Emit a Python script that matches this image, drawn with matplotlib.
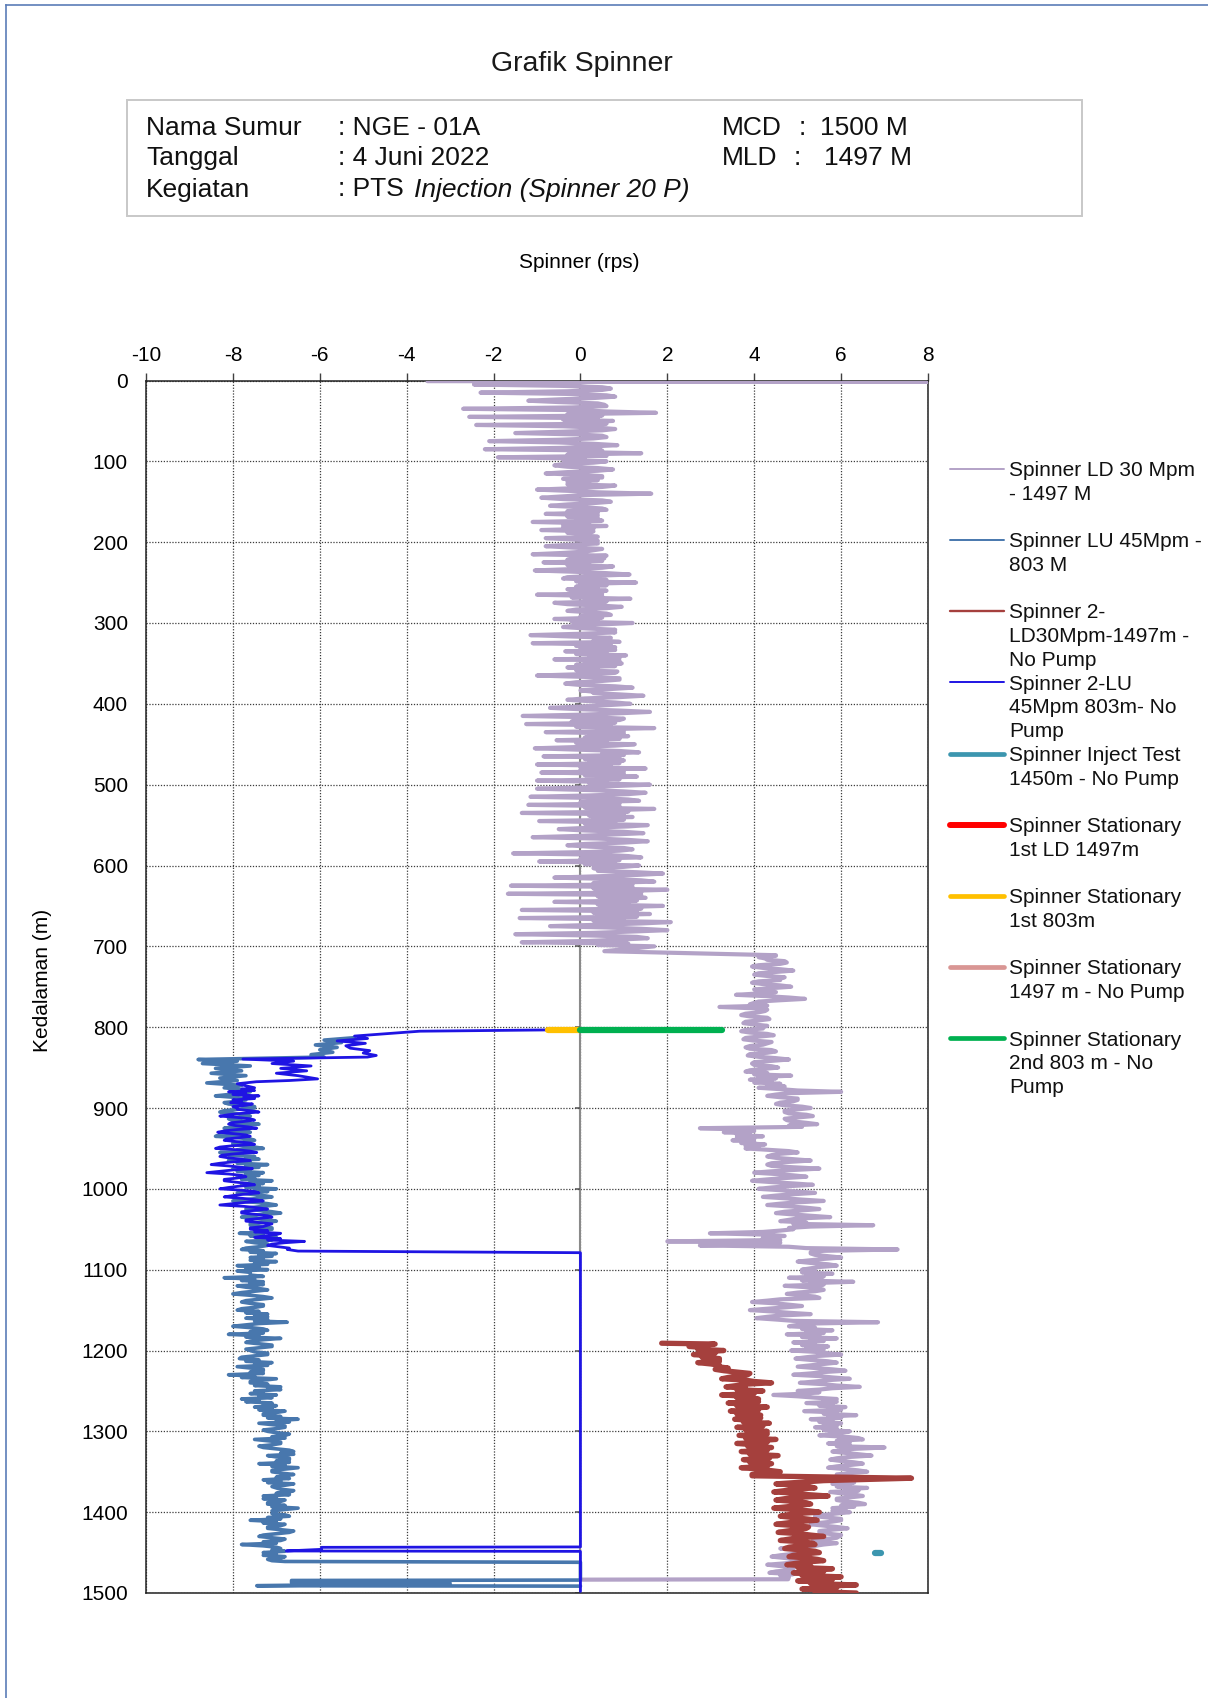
import numpy as np
import matplotlib.pyplot as plt
from matplotlib.lines import Line2D
from matplotlib.patches import Rectangle

plt.rcParams['font.family'] = ['Liberation Sans', 'DejaVu Sans']
plt.rcParams['axes.unicode_minus'] = False

W, H = 1208, 1698

# ---------------- data (kedalaman m, spinner rps) ----------------
# each logged run: "peak" readings every 5 m, plus two "core" readings
# between consecutive peaks (core / core2)

# Spinner LD 30 Mpm - 1497 M
ld30_head_depth = [0.8, 1.2]
ld30_head_rps = [-3.52, 8.0]
ld30_upper_peak = [
    -2.45, 0.7, -2.3, 0.8, -1.2, 0.55, -2.7, 1.74, -2.56, 0.75,
    -2.4, 0.8, -1.5, 0.6, -2.1, 0.85, -2.2, 1.4, -1.9, 0.6,
    -0.6, 0.75, -0.8, 0.5, -0.3, 0.8, -1.0, 1.63, -0.9, 0.7,
    -0.7, 0.6, -0.8, 0.4, -1.1, 0.6, -0.9, 0.2, -0.8, 0.35,
    -0.8, 0.3, -1.1, 0.55, -0.85, 0.75, -1.05, 1.13, -0.4, 1.28,
    -0.1, 0.6, -1.0, 1.15, -0.6, 0.95, -0.3, 0.7, -0.6, 1.2,
    -0.4, 0.65, -1.15, 0.35, -1.1, 0.8, -0.35, 1.05, -0.6, 0.95,
    -0.3, 0.85, -1.0, 0.9, -0.35, 1.2, 0.3, 1.45, -0.3, 1.15,
    -0.7, 1.6, -1.33, 0.9, -1.25, 1.7, -0.8, 1.1, -0.55, 1.25,
    -1.05, 1.35, -0.85, 1.0, -1.0, 1.5, -0.9, 1.3, -1.0, 1.6,
    -1.0, 1.5, -1.15, 1.35, -1.2, 1.7, -1.35, 1.2, -0.95, 1.55,
    -0.5, 1.45, -1.1, 1.55, -0.3, 1.2, -1.55, 1.4, -0.95, 1.35,
    0.6, 1.9, -0.6, 1.7, -1.6, 2.0, -1.67, 1.5, -0.6, 1.9,
    -1.35, 1.6, -1.4, 2.08, -0.7, 2.0, -1.5, 1.55, -1.35, 1.7,
]
ld30_upper_core = [
    0.2, -0.4, 0.5, -0.2, 0.3, -0.5, 0.6, 0.0, -0.3, 0.4,
    0.1, -0.4, 0.5, -0.1, 0.3, -0.5, 0.2, 0.5, -0.3, 0.1,
    0.3, -0.3, 0.4, 0.0, -0.4, 0.2, 0.5, -0.2, 0.1, -0.4,
    0.3, 0.0, -0.3, 0.4, -0.1, 0.2, -0.4, 0.3, 0.0, -0.2,
    0.4, -0.2, 0.1, 0.6, -0.3, 0.2, 0.5, -0.1, 0.3, 0.6,
    0.0, 0.4, -0.2, 0.5, 0.1, -0.3, 0.6, 0.2, 0.0, 0.4,
    0.5, 0.1, 0.8, -0.2, 0.3, 0.7, 0.0, 0.6, 0.2, 0.9,
    -0.1, 0.4, 0.8, 0.1, 0.5, 0.0, 0.7, 0.3, 0.9, 0.2,
    0.6, 0.0, 0.9, 0.3, -0.2, 0.7, 0.4, 1.0, 0.1, 0.6,
    0.8, -0.1, 0.5, 0.9, 0.2, 0.7, 0.0, 1.0, 0.4, 0.6,
    0.8, 0.2, 1.1, 0.5, 0.0, 0.9, 0.6, 1.0, 0.3, 0.8,
    1.1, 0.1, 0.7, 0.4, 1.0, 0.2, 0.9, 0.5, 0.0, 0.8,
    1.0, 0.4, 1.3, 0.7, 0.3, 1.2, 0.9, 1.4, 0.5, 1.1,
    0.8, 1.3, 0.4, 1.0, 1.4, 0.6, 1.2, 0.3, 0.9, 1.1,
]
ld30_upper_core2 = [
    -0.4, 0.5, -0.3, 0.6, -0.5, 0.4, -0.2, 0.6, 0.5, -0.4,
    0.6, 0.4, -0.4, 0.5, -0.5, 0.3, -0.4, -0.2, 0.6, -0.4,
    -0.4, 0.4, -0.3, 0.5, 0.4, -0.3, -0.2, 0.4, -0.4, 0.5,
    -0.3, 0.5, 0.4, -0.3, 0.5, -0.4, 0.3, -0.3, 0.4, 0.4,
    -0.3, 0.5, -0.4, -0.2, 0.5, -0.3, -0.2, 0.6, -0.3, -0.1,
    0.6, -0.3, 0.5, -0.2, 0.6, 0.4, -0.1, 0.6, 0.5, -0.2,
    -0.1, 0.8, 0.0, 0.7, 0.9, -0.1, 0.8, -0.1, 0.9, 0.1,
    0.8, -0.1, 0.0, 0.9, -0.1, 0.8, 0.0, 0.9, 0.1, 0.8,
    0.0, 0.9, 0.1, 1.0, 0.8, -0.1, 1.0, 0.2, 0.9, -0.1,
    0.0, 0.9, 1.0, 0.1, 0.9, 0.0, 1.0, 0.1, 0.9, 0.2,
    0.1, 1.0, 0.2, 1.1, 0.9, 0.1, 1.1, 0.2, 1.0, 0.1,
    0.2, 1.0, 0.0, 1.1, 0.1, 1.0, 0.2, 1.1, 0.9, 0.1,
    0.3, 1.3, 0.4, 1.4, 1.2, 0.3, 1.4, 0.4, 1.3, 0.4,
    1.4, 0.3, 1.3, 0.3, 0.4, 1.4, 0.3, 1.3, 0.2, 0.4,
]
ld30_jump_depth = [706, 711]
ld30_jump_rps = [0.55, 4.5]
ld30_mid_peak = [
    4.25, 4.75, 3.95, 4.9, 4.0, 4.5, 3.95, 4.85, 4.1, 3.58,
    5.17, 4.0, 3.2, 4.25, 3.7, 4.35, 3.75, 4.2, 3.7, 4.45,
    3.75, 4.3, 3.8, 4.5, 3.85, 4.8, 3.95, 4.55, 3.8, 4.85,
    3.9, 4.6, 4.1, 6.0, 4.3, 5.0, 4.5, 5.3, 4.7, 5.35,
    4.75, 5.45, 2.75, 3.3, 4.2, 3.5, 4.25, 3.8, 5.0, 4.3,
    5.3, 4.3, 5.5, 4.0, 5.2, 3.95, 5.35, 4.1, 5.4, 4.2,
    5.6, 4.3, 5.5, 4.5, 5.75, 4.6, 6.74, 4.9, 2.98, 4.2,
    2.0, 2.75, 7.3, 5.3, 6.0, 5.0, 5.9, 5.1,
]
ld30_mid_core = [
    4.5, 4.3, 4.6, 4.2, 4.5, 4.3, 4.6, 4.2, 4.4, 4.5,
    4.3, 4.6, 3.9, 4.0, 4.1, 3.9, 4.1, 4.0, 4.2, 3.9,
    4.1, 4.0, 4.2, 3.9, 4.3, 4.1, 4.4, 4.0, 4.2, 4.3,
    4.1, 4.4, 4.3, 4.6, 4.8, 4.6, 4.9, 4.7, 5.0, 4.8,
    5.0, 4.9, 4.8, 3.7, 3.9, 3.6, 4.0, 3.8, 4.3, 4.6,
    4.5, 4.8, 4.4, 4.9, 4.5, 4.7, 4.4, 4.8, 4.6, 4.9,
    4.7, 5.0, 4.8, 5.1, 4.9, 5.0, 5.2, 5.3, 4.6, 4.3,
    4.2, 4.6, 4.8, 5.6, 5.4, 5.6, 5.3, 5.5,
]
ld30_mid_core2 = [
    4.1, 4.7, 4.1, 4.6, 4.1, 4.7, 4.1, 4.6, 4.0, 4.1,
    4.8, 4.1, 4.3, 4.3, 3.8, 4.3, 3.8, 4.3, 3.8, 4.3,
    3.8, 4.4, 3.9, 4.4, 3.9, 4.5, 4.0, 4.4, 3.9, 4.0,
    4.5, 4.0, 4.7, 5.0, 4.5, 5.0, 4.6, 5.1, 4.7, 5.2,
    4.7, 5.2, 5.1, 4.0, 3.6, 4.0, 3.7, 4.1, 4.8, 4.4,
    4.9, 4.4, 4.9, 4.4, 4.9, 4.3, 4.9, 4.4, 5.0, 4.5,
    5.1, 4.6, 5.2, 4.7, 5.3, 4.8, 4.9, 4.8, 4.2, 4.7,
    4.6, 4.2, 5.2, 5.3, 5.7, 5.3, 5.7, 5.3,
]
ld30_low_peak = [
    5.8, 4.8, 6.28, 4.7, 5.6, 4.75, 5.5, 3.95, 5.1, 3.9,
    5.3, 4.05, 6.85, 4.8, 5.8, 4.75, 5.9, 4.9, 5.7, 4.85,
    6.0, 4.95, 5.9, 5.0, 6.1, 4.9, 6.2, 5.05, 6.43, 5.0,
    4.44, 5.9, 5.2, 6.1, 5.15, 6.35, 5.3, 6.0, 5.4, 6.2,
    5.5, 6.5, 5.7, 7.0, 5.8, 6.7, 5.75, 6.5, 5.7, 6.6,
    5.9, 6.4, 5.8, 6.6, 5.75, 6.5, 5.9, 6.55, 5.8, 6.2,
    5.4, 6.0, 5.3, 6.15, 5.5, 5.95, 5.35, 5.6, 4.6, 5.2,
    4.4, 5.0, 4.3, 4.9, 4.35, 4.8,
]
ld30_low_core = [
    5.4, 5.2, 5.5, 5.3, 5.2, 5.4, 5.1, 4.6, 4.5, 4.7,
    4.4, 4.6, 4.5, 5.3, 5.4, 5.2, 5.5, 5.3, 5.4, 5.2,
    5.4, 5.5, 5.3, 5.6, 5.4, 5.6, 5.5, 5.7, 5.6, 5.8,
    5.5, 5.0, 5.6, 5.8, 5.7, 5.9, 5.7, 5.8, 5.6, 5.9,
    6.0, 6.1, 5.9, 6.2, 6.3, 6.1, 6.2, 6.0, 6.2, 6.1,
    6.2, 6.1, 6.0, 6.2, 6.1, 6.0, 6.2, 6.1, 6.0, 6.1,
    5.9, 5.7, 5.8, 5.6, 5.8, 5.7, 5.9, 5.6, 5.4, 5.0,
    4.9, 4.7, 5.0, 4.6, 4.8, 4.9,
]
ld30_low_core2 = [
    5.1, 5.6, 5.1, 5.6, 5.5, 5.0, 5.4, 4.3, 4.8, 4.3,
    4.8, 4.3, 4.9, 5.0, 5.1, 5.6, 5.1, 5.6, 5.1, 5.6,
    5.7, 5.2, 5.7, 5.3, 5.8, 5.3, 5.8, 5.4, 5.9, 5.5,
    5.2, 5.4, 5.9, 5.5, 6.0, 5.6, 6.0, 5.5, 5.9, 5.6,
    5.8, 6.4, 6.2, 5.9, 6.0, 6.4, 5.9, 6.3, 5.9, 6.4,
    5.9, 6.4, 6.3, 5.9, 6.4, 6.3, 5.9, 6.4, 6.3, 5.8,
    5.6, 6.0, 5.5, 5.9, 5.5, 6.0, 5.6, 5.9, 5.1, 5.3,
    4.6, 5.0, 4.7, 4.9, 4.5, 4.6,
]
ld30_tail_depth = [1483, 1483.5]
ld30_tail_rps = [4.78, 0.0]

# Spinner LU 45Mpm - 803 M
lu45_head_depth = [813, 816, 819, 822, 825, 828, 831, 834, 837, 840, 842,
                   845, 848, 851, 854, 857, 860, 863, 866, 869, 872]
lu45_head_rps = [-5.2, -5.9, -5.5, -6.1, -5.6, -6.0, -5.7, -6.2, -5.9, -8.8, -7.9,
                 -8.7, -7.6, -8.4, -7.8, -8.5, -7.7, -8.3, -7.9, -8.6, -7.8]
lu45_peak = [
    -8.2, -7.6, -8.4, -7.7, -8.1, -7.5, -8.3, -7.6, -8.0, -7.4,
    -8.2, -7.6, -8.4, -7.5, -8.0, -7.3, -8.3, -7.5, -8.1, -7.2,
    -8.0, -7.3, -7.9, -7.1, -7.8, -7.0, -7.9, -7.1, -8.0, -7.0,
    -7.7, -6.9, -7.8, -7.0, -7.6, -7.1, -7.85, -7.0, -7.7, -7.2,
    -7.8, -7.0, -7.6, -7.0, -7.9, -7.2, -7.6, -8.2, -7.3, -7.9,
    -7.2, -8.0, -7.1, -7.8, -7.3, -7.9, -7.2, -7.7, -6.75, -8.0,
    -7.2, -8.1, -6.9, -7.7, -7.1, -7.6, -7.2, -7.85, -7.1, -7.9,
    -7.3, -8.1, -7.0, -7.6, -6.9, -7.5, -7.0, -7.8, -7.1, -7.5,
    -6.8, -7.3, -6.5, -7.4, -6.8, -7.2, -6.8, -7.5, -6.9, -7.3,
    -6.6, -7.2, -6.7, -7.4, -6.5, -7.1, -6.8, -7.3, -6.6, -7.0,
    -6.7, -7.3, -6.8, -7.2, -6.5, -7.0, -6.7, -7.6, -6.8, -7.2,
    -6.7, -7.4, -6.9, -7.8, -6.9, -7.3, -6.8, -7.1,
]
lu45_core = [
    -7.9, -7.8, -8.0, -7.9, -7.8, -7.9, -8.0, -7.8, -7.7, -7.9,
    -7.8, -8.0, -7.9, -7.7, -7.8, -7.9, -7.8, -7.7, -7.6, -7.7,
    -7.6, -7.7, -7.5, -7.6, -7.4, -7.5, -7.6, -7.4, -7.5, -7.3,
    -7.4, -7.3, -7.5, -7.3, -7.4, -7.5, -7.3, -7.4, -7.5, -7.4,
    -7.3, -7.4, -7.3, -7.5, -7.4, -7.9, -7.6, -7.5, -7.6, -7.7,
    -7.5, -7.6, -7.4, -7.6, -7.5, -7.4, -7.5, -7.2, -7.4, -7.6,
    -7.6, -7.4, -7.3, -7.4, -7.4, -7.5, -7.5, -7.4, -7.5, -7.6,
    -7.6, -7.5, -7.3, -7.2, -7.2, -7.3, -7.4, -7.4, -7.3, -7.1,
    -7.0, -6.9, -7.0, -7.1, -7.0, -7.0, -7.1, -7.2, -7.1, -7.0,
    -6.9, -7.0, -7.0, -6.8, -6.8, -6.9, -7.0, -6.9, -6.8, -6.9,
    -7.0, -7.0, -6.9, -6.8, -6.8, -7.1, -7.2, -7.0, -6.9, -6.9,
    -7.0, -7.1, -7.3, -7.3, -7.1, -7.0, -6.9,
]
lu45_core2 = [
    -7.6, -8.1, -7.7, -8.2, -7.5, -8.2, -7.7, -8.1, -8.0, -7.6,
    -8.1, -7.7, -7.6, -8.0, -7.5, -7.6, -8.1, -7.4, -7.9, -7.4,
    -7.9, -7.4, -7.8, -7.3, -7.7, -7.2, -7.3, -7.7, -7.2, -7.6,
    -7.1, -7.6, -7.2, -7.6, -7.1, -7.2, -7.6, -7.1, -7.2, -7.7,
    -7.6, -7.1, -7.6, -7.2, -7.7, -7.6, -7.3, -7.8, -7.3, -7.4,
    -7.8, -7.3, -7.7, -7.3, -7.8, -7.7, -7.2, -7.5, -7.7, -7.3,
    -7.3, -7.7, -7.6, -7.1, -7.7, -7.2, -7.8, -7.7, -7.2, -7.3,
    -7.3, -7.8, -7.6, -7.5, -6.9, -7.6, -7.1, -7.7, -7.0, -7.4,
    -7.3, -7.2, -6.7, -6.8, -7.3, -6.7, -6.8, -6.9, -7.4, -6.7,
    -6.6, -6.7, -6.7, -7.1, -7.1, -6.6, -6.7, -7.2, -7.1, -6.6,
    -6.7, -7.3, -7.2, -7.1, -7.1, -6.8, -6.9, -7.3, -7.2, -6.6,
    -7.3, -6.8, -7.0, -7.0, -6.8, -7.3, -7.2,
]
lu45_tail_depth = [1461, 1462, 1484, 1484.5, 1487, 1488, 1491, 1491.5]
lu45_tail_rps = [-6.8, 0.0, 0.0, -6.65, -6.65, -3.0, -7.45, 0.0]

# Spinner 2-LD30Mpm-1497m - No Pump
ld2_head_depth = [1191, 1192]
ld2_head_rps = [1.87, 3.1]
ld2_a_peak = [
    2.5, 3.3, 2.6, 3.2, 2.7, 3.15, 3.3, 3.85, 3.25, 4.4,
    3.35, 4.2, 3.25, 4.1, 3.4, 4.3, 3.45, 4.15, 3.55, 4.35,
    3.6, 4.3, 3.65, 4.5, 3.6, 4.4, 3.7, 4.55, 3.75, 4.4,
    3.7, 4.6, 3.95,
]
ld2_a_core = [
    2.9, 2.9, 2.95, 3.0, 3.0, 3.4, 3.6, 3.6, 3.8, 3.8,
    3.8, 3.7, 3.8, 3.9, 3.85, 3.9, 3.8, 3.9, 4.0, 3.95,
    4.0, 4.05, 4.0, 4.1, 4.0, 4.1, 4.1, 4.15, 4.1, 4.05,
    4.1, 4.2,
]
ld2_a_core2 = [
    2.7, 3.1, 2.8, 3.2, 3.2, 3.1, 3.9, 3.4, 4.0, 3.6,
    3.6, 4.0, 3.6, 4.1, 3.6, 4.1, 3.6, 4.15, 3.75, 4.2,
    3.8, 4.3, 3.8, 4.3, 3.85, 4.3, 3.9, 4.35, 3.9, 4.3,
    4.35, 3.95,
]
ld2_spike_depth = [1358, 1361]
ld2_spike_rps = [7.62, 5.6]
ld2_b_peak = [
    4.5, 5.4, 4.45, 5.7, 4.5, 5.3, 4.45, 5.5, 4.6, 5.45,
    4.5, 5.2, 4.55, 5.6, 4.6, 5.4, 4.7, 5.5, 4.8, 5.6,
    4.75, 5.8, 4.9, 6.0, 5.0, 6.35, 5.1, 6.35,
]
ld2_b_core = [
    4.95, 4.9, 5.0, 4.95, 4.9, 5.0, 4.95, 5.0, 4.9, 5.0,
    4.95, 5.0, 5.05, 5.0, 5.1, 5.05, 5.1, 5.15, 5.2, 5.2,
    5.3, 5.35, 5.4, 5.5, 5.55, 5.6, 5.7,
]
ld2_b_core2 = [
    5.25, 4.7, 5.25, 4.7, 5.2, 4.75, 5.25, 4.75, 5.2, 4.75,
    5.25, 4.75, 5.3, 4.8, 5.35, 4.8, 5.4, 4.9, 5.45, 4.95,
    5.0, 5.6, 5.1, 5.8, 5.3, 5.9, 5.4,
]

# Spinner 2-LU 45Mpm 803m - No Pump
lu2_head_depth = [803, 805, 809, 811, 814, 817, 820, 823, 826, 829,
                  832, 835, 837, 839.5, 842, 845, 848, 851, 854, 857,
                  860, 864, 866, 867.5, 870]
lu2_head_rps = [0.0, -3.7, -4.7, -5.2, -4.9, -5.6, -4.95, -5.4, -5.3, -4.85,
                -5.0, -4.7, -4.9, -7.77, -6.6, -7.1, -6.2, -6.9, -6.3, -7.0,
                -6.5, -6.05, -6.7, -7.46, -7.9]
lu2_peak = [
    -7.5, -8.1, -7.4, -8.0, -7.55, -7.9, -7.4, -8.3, -7.5, -8.1,
    -7.45, -8.35, -7.6, -8.2, -7.5, -8.4, -7.45, -8.3, -7.6, -8.5,
    -7.55, -8.6, -7.7, -8.2, -7.5, -8.3, -7.4, -8.2, -7.3, -8.3,
    -7.2, -7.8, -7.1, -7.7, -7.2, -7.6, -6.9, -7.5, -6.35, -7.2,
    -6.75,
]
lu2_core = [
    -7.8, -7.7, -7.75, -7.8, -7.7, -7.9, -7.8, -7.9, -7.75, -7.95,
    -7.9, -8.0, -7.85, -7.9, -8.0, -7.9, -7.95, -8.1, -8.0, -8.1,
    -8.0, -8.1, -7.9, -7.95, -7.85, -7.8, -7.75, -7.8, -7.7, -7.75,
    -7.5, -7.45, -7.4, -7.4, -7.3, -7.2, -7.0, -6.9, -6.8, -6.95,
]
lu2_core2 = [
    -7.5, -8.0, -7.5, -8.05, -8.0, -7.6, -8.1, -7.6, -8.05, -7.65,
    -8.2, -7.7, -8.15, -7.6, -8.3, -7.6, -8.25, -7.8, -8.3, -7.8,
    -8.3, -7.8, -8.2, -7.65, -8.1, -7.5, -8.0, -7.5, -8.0, -7.45,
    -7.8, -7.2, -7.7, -7.1, -7.6, -7.5, -7.3, -7.2, -7.1, -6.7,
]
lu2_tail_depth = [1077, 1079, 1443, 1443.5, 1446, 1448, 1448.5, 1498]
lu2_tail_rps = [-6.5, 0.0, 0.0, -5.96, -5.96, -6.77, 0.0, 0.0]

# stationary / inject test readings
inject_depth, inject_rps = [1450, 1450], [6.78, 6.92]
stat1_ld_depth, stat1_ld_rps = [], []
stat1_803_depth, stat1_803_rps = [803, 803], [-0.74, 0.0]
stat_1497_depth, stat_1497_rps = [], []
stat2_803_depth, stat2_803_rps = [803, 803], [0.0, 3.25]

x_ticks = list(range(-10, 9, 2))
y_ticks = list(range(0, 1501, 100))

legend_labels = [
    "Spinner LD 30 Mpm\n- 1497 M",
    "Spinner LU 45Mpm -\n803 M",
    "Spinner 2-\nLD30Mpm-1497m -\nNo Pump",
    "Spinner 2-LU\n45Mpm 803m- No\nPump",
    "Spinner Inject Test\n1450m - No Pump",
    "Spinner Stationary\n1st LD 1497m",
    "Spinner Stationary\n1st 803m",
    "Spinner Stationary\n1497 m - No Pump",
    "Spinner Stationary\n2nd 803 m - No\nPump",
]


def grid5(first, n):
    # logging stations every 5 m
    return list(first + 5.0 * np.arange(n))


def run(*parts):
    # join (depth, rps) pieces into one trace ordered by depth
    d = np.concatenate([np.asarray(p[0], float) for p in parts])
    v = np.concatenate([np.asarray(p[1], float) for p in parts])
    order = np.argsort(d, kind='stable')
    return v[order], d[order]


def logged(first_peak, peaks, core, core2, before=True):
    # peaks every 5 m; the two core readings sit a third and two thirds of the
    # way between peaks (before each peak, or after it)
    s = -5.0 if before else 0.0
    return [(grid5(first_peak, len(peaks)), peaks),
            (grid5(first_peak + s + 5 / 3, len(core)), core),
            (grid5(first_peak + s + 10 / 3, len(core2)), core2)]


ld30_rps, ld30_depth = run(
    (ld30_head_depth, ld30_head_rps),
    *logged(5, ld30_upper_peak, ld30_upper_core, ld30_upper_core2),
    (ld30_jump_depth, ld30_jump_rps),
    *logged(715, ld30_mid_peak, ld30_mid_core, ld30_mid_core2),
    *logged(1105, ld30_low_peak, ld30_low_core, ld30_low_core2),
    (ld30_tail_depth, ld30_tail_rps),
)
lu45_rps, lu45_depth = run(
    (lu45_head_depth, lu45_head_rps),
    *logged(875, lu45_peak, lu45_core, lu45_core2, before=False),
    (lu45_tail_depth, lu45_tail_rps),
)
ld2_rps, ld2_depth = run(
    (ld2_head_depth, ld2_head_rps),
    *logged(1195, ld2_a_peak, ld2_a_core, ld2_a_core2, before=False),
    (ld2_spike_depth, ld2_spike_rps),
    *logged(1365, ld2_b_peak, ld2_b_core, ld2_b_core2, before=False),
)
lu2_rps, lu2_depth = run(
    (lu2_head_depth, lu2_head_rps),
    *logged(875, lu2_peak, lu2_core, lu2_core2, before=False),
    (lu2_tail_depth, lu2_tail_rps),
)

# ---------------- styles ----------------
LAV = '#b3a2c7'
STEEL = '#4877ad'
BROWN = '#a5403d'
BLUE = '#1f14e3'
TEAL = '#3c96af'
RED = '#ff0000'
YELLOW = '#ffc000'
PINK = '#d99694'
GREEN = '#00b050'


def fx(px):
    return px / W


def fy(py):
    return 1 - py / H


fig = plt.figure(figsize=(W / 100, H / 100), dpi=100)
ax = fig.add_axes([fx(146), fy(1593), fx(928) - fx(146), fy(380.5) - fy(1593)])

line_kw = dict(solid_joinstyle='round', solid_capstyle='round')
ax.plot(ld30_rps, ld30_depth, color=LAV, lw=3.0, zorder=3, **line_kw)
ax.plot(lu45_rps, lu45_depth, color=STEEL, lw=2.6, zorder=3.1, **line_kw)
ax.plot(ld2_rps, ld2_depth, color=BROWN, lw=3.8, zorder=3.2, **line_kw)
ax.plot(lu2_rps, lu2_depth, color=BLUE, lw=2.0, zorder=3.3, **line_kw)
ax.plot(inject_rps, inject_depth, color=TEAL, lw=4.5, zorder=3.4, **line_kw)
ax.plot(stat1_ld_rps, stat1_ld_depth, color=RED, lw=4.5, zorder=3.5, **line_kw)
ax.plot(stat1_803_rps, stat1_803_depth, color=YELLOW, lw=4.5, zorder=3.6, **line_kw)
ax.plot(stat_1497_rps, stat_1497_depth, color=PINK, lw=4.5, zorder=3.7, **line_kw)
ax.plot(stat2_803_rps, stat2_803_depth, color=GREEN, lw=4.5, zorder=3.8, **line_kw)

ax.set_xlim(-10, 8)
ax.set_ylim(1500, 0)
ax.set_xticks(x_ticks)
ax.set_yticks(y_ticks)
ax.xaxis.tick_top()
ax.tick_params(axis='x', top=True, bottom=False, direction='out', length=5.5,
               width=1, color='#404040', pad=6, labelsize=15)
ax.tick_params(axis='y', left=False, right=False, length=0, pad=13, labelsize=15)
ax.grid(True, linestyle=(0, (1, 1.3)), color='#3c3c3c', lw=0.9, zorder=1)
ax.set_axisbelow(True)
for sp in ax.spines.values():
    sp.set_color('#222222')
    sp.set_linewidth(1.1)

# vertical value axis crossing at 0 with its small tick marks
ax.axvline(0, color='#8a8a8a', lw=1.5, zorder=1.5)
ax.hlines(y_ticks, -0.13, 0, color='#555555', lw=1.1, zorder=1.6)

# titles and axis labels
fig.text(fx(582), fy(71), 'Grafik Spinner', ha='center',
         va='baseline', fontsize=20.5, color='#1a1a1a')
fig.text(fx(579), fy(262), 'Spinner (rps)', ha='center', va='center', fontsize=15)
fig.text(fx(43), fy(980), 'Kedalaman (m)', ha='center', va='center',
         rotation=90, fontsize=15)

# info box
fig.add_artist(Rectangle((fx(127), fy(216)), fx(1082) - fx(127), fy(100) - fy(216),
                         transform=fig.transFigure, fill=False,
                         edgecolor='#c8c8c8', lw=1.4))
hdr = dict(fontsize=19, va='baseline', color='#111111')
rows_y = [135, 165, 196.5]
fig.text(fx(146), fy(rows_y[0]), 'Nama Sumur', **hdr)
fig.text(fx(146), fy(rows_y[1]), 'Tanggal', **hdr)
fig.text(fx(146), fy(rows_y[2]), 'Kegiatan', **hdr)
fig.text(fx(338), fy(rows_y[0]), ': NGE - 01A', **hdr)
fig.text(fx(338), fy(rows_y[1]), ': 4 Juni 2022', **hdr)
fig.text(fx(338), fy(rows_y[2]), ': PTS', **hdr)
fig.text(fx(413.5), fy(rows_y[2]), 'Injection (Spinner 20 P)', style='italic', **hdr)
fig.text(fx(722), fy(rows_y[0]), 'MCD', **hdr)
fig.text(fx(799), fy(rows_y[0]), ':', **hdr)
fig.text(fx(820), fy(rows_y[0]), '1500 M', **hdr)
fig.text(fx(722), fy(rows_y[1]), 'MLD', **hdr)
fig.text(fx(794), fy(rows_y[1]), ':', **hdr)
fig.text(fx(824), fy(rows_y[1]), '1497 M', **hdr)

# legend, one entry every 71.2 px, handle on the first text line
legend_styles = [(LAV, 1.4), (STEEL, 1.4), (BROWN, 1.7), (BLUE, 1.4), (TEAL, 3.4),
                 (RED, 4.3), (YELLOW, 3.4), (PINK, 3.4), (GREEN, 3.4)]
for i, (label, (color, lw)) in enumerate(zip(legend_labels, legend_styles)):
    yc = 468.7 + i * 71.2
    fig.add_artist(Line2D([fx(950), fx(1004)], [fy(yc), fy(yc)], color=color, lw=lw,
                          solid_capstyle='round', transform=fig.transFigure))
    for j, line in enumerate(label.split('\n')):
        fig.text(fx(1009), fy(yc + 7.3 + j * 23.8), line, fontsize=15, va='baseline',
                 color='#111111')

# outer frame edges
fig.add_artist(Line2D([fx(6), fx(W)], [fy(5), fy(5)], color='#5b7db8', lw=1.2,
                      transform=fig.transFigure))
fig.add_artist(Line2D([fx(6), fx(6)], [fy(5), fy(H)], color='#5b7db8', lw=1.2,
                      transform=fig.transFigure))

fig.savefig('out.png', dpi=100)
